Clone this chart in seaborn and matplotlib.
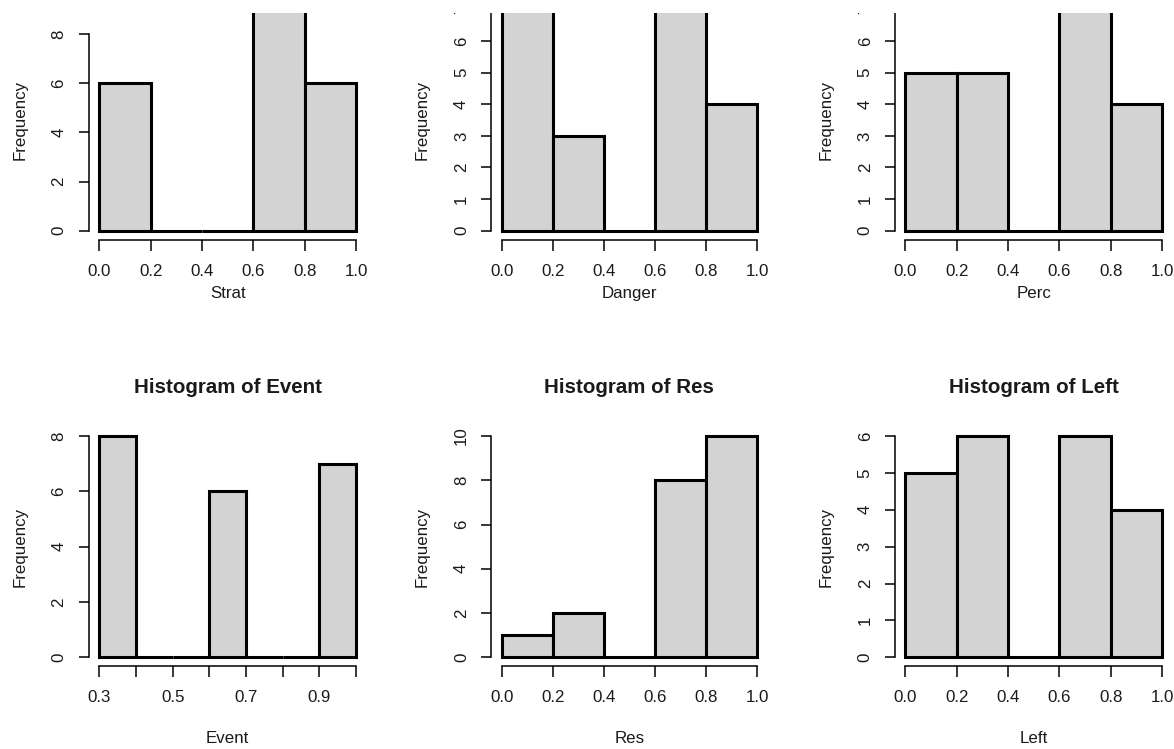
import seaborn as sns
import matplotlib.pyplot as plt
from matplotlib.patches import Rectangle

# bin edges and counts
unit_edges = [0.0, 0.2, 0.4, 0.6, 0.8, 1.0]
event_edges = [0.3, 0.4, 0.5, 0.6, 0.7, 0.8, 0.9, 1.0]

strat_counts = [6, 0, 0, 9, 6]
danger_counts = [7, 3, 0, 7, 4]
perc_counts = [5, 5, 0, 7, 4]
event_counts = [8, 0, 0, 6, 0, 0, 7]
res_counts = [1, 2, 0, 8, 10]
left_counts = [5, 6, 0, 6, 4]

unit_ticks = [0.0, 0.2, 0.4, 0.6, 0.8, 1.0]
unit_labels = ["0.0", "0.2", "0.4", "0.6", "0.8", "1.0"]
event_ticks = [0.3, 0.4, 0.5, 0.6, 0.7, 0.8, 0.9, 1.0]
event_labels = ["0.3", "", "0.5", "", "0.7", "", "0.9", ""]

strat_yticks = [0, 2, 4, 6, 8]
danger_yticks = [0, 1, 2, 3, 4, 5, 6, 7]
perc_yticks = [0, 1, 2, 3, 4, 5, 6, 7]
event_yticks = [0, 2, 4, 6, 8]
res_yticks = [0, 2, 4, 6, 8, 10]
left_yticks = [0, 1, 2, 3, 4, 5, 6]

sns.set_style("white")
plt.rcParams["font.family"] = ["Liberation Sans", "DejaVu Sans"]
plt.rcParams["text.color"] = "#1a1a1a"
plt.rcParams["axes.labelcolor"] = "#1a1a1a"
plt.rcParams["xtick.color"] = "#1a1a1a"
plt.rcParams["ytick.color"] = "#1a1a1a"

W, H = 1174, 749
fig = plt.figure(figsize=(W / 100, H / 100), dpi=100)
fig.patch.set_facecolor("white")

# pixel layout: (first x, last x) of each column, (zero y, max y) of each row
cols = [(99.3, 356.0), (501.7, 757.0), (905.5, 1162.0)]
rows = [(230.7, 9.4), (657.3, 436.0)]
xlab_off = [54.4, 72.8]

panels = [
    (0, 0, "Strat", unit_edges, strat_counts, unit_ticks, unit_labels, strat_yticks, None),
    (0, 1, "Danger", unit_edges, danger_counts, unit_ticks, unit_labels, danger_yticks, None),
    (0, 2, "Perc", unit_edges, perc_counts, unit_ticks, unit_labels, perc_yticks, None),
    (1, 0, "Event", event_edges, event_counts, event_ticks, event_labels, event_yticks, "Histogram of Event"),
    (1, 1, "Res", unit_edges, res_counts, unit_ticks, unit_labels, res_yticks, "Histogram of Res"),
    (1, 2, "Left", unit_edges, left_counts, unit_ticks, unit_labels, left_yticks, "Histogram of Left"),
]

for r, c, name, edges, counts, xt, xl, yt, title in panels:
    x0, x1 = cols[c]
    z0, z1 = rows[r]
    w = (x1 - x0) * 1.08
    h = (z0 - z1) * 1.08
    left = x0 - 0.04 * (x1 - x0)
    bottom = z0 + 0.04 * (z0 - z1)
    ax = fig.add_axes([left / W, 1 - bottom / H, w / W, h / H])

    mids = [(edges[i] + edges[i + 1]) / 2 for i in range(len(counts))]
    sns.histplot(x=mids, weights=counts, bins=edges, ax=ax,
                 color="#d3d3d3", edgecolor="black", linewidth=2.2, alpha=1)

    lo, hi = edges[0], edges[-1]
    ymax = max(counts)
    ax.set_xlim(lo - 0.04 * (hi - lo), hi + 0.04 * (hi - lo))
    ax.set_ylim(-0.04 * ymax, 1.04 * ymax)

    for s in ["top", "right"]:
        ax.spines[s].set_visible(False)
    for s in ["left", "bottom"]:
        ax.spines[s].set_linewidth(1.1)
        ax.spines[s].set_color("black")
    ax.spines["left"].set_bounds(yt[0], yt[-1])
    ax.spines["bottom"].set_bounds(lo, hi)

    ax.set_xticks(xt)
    ax.set_xticklabels(xl)
    ax.set_yticks(yt)
    ax.set_yticklabels([str(v) for v in yt])
    ax.tick_params(axis="x", direction="out", length=7.7, width=1.1, pad=15,
                   labelsize=12.2, bottom=True, color="black")
    ax.tick_params(axis="y", direction="out", length=7.2, width=1.1, pad=14.4,
                   labelsize=12.2, left=True, labelrotation=90, color="black")
    plt.setp(ax.get_xticklabels(), va="center")
    plt.setp(ax.get_yticklabels(), ha="center", va="center")

    ax.set_xlabel(name, fontsize=12.2, va="center")
    ax.xaxis.set_label_coords(0.5, -xlab_off[r] / h)
    ax.set_ylabel("Frequency", fontsize=12.2, va="center")
    ax.yaxis.set_label_coords(-69 / w, 0.5)

    if title:
        ax.set_title(title, fontsize=14.8, fontweight="bold",
                     y=1 + 40 / h, va="center", pad=0)

# the reference screenshot is cut off along the top edge
fig.add_artist(Rectangle((0, 1 - 13 / H), 1, 13 / H, transform=fig.transFigure,
                         facecolor="white", edgecolor="none", zorder=10))

fig.savefig("out.png", dpi=100, facecolor="white")
